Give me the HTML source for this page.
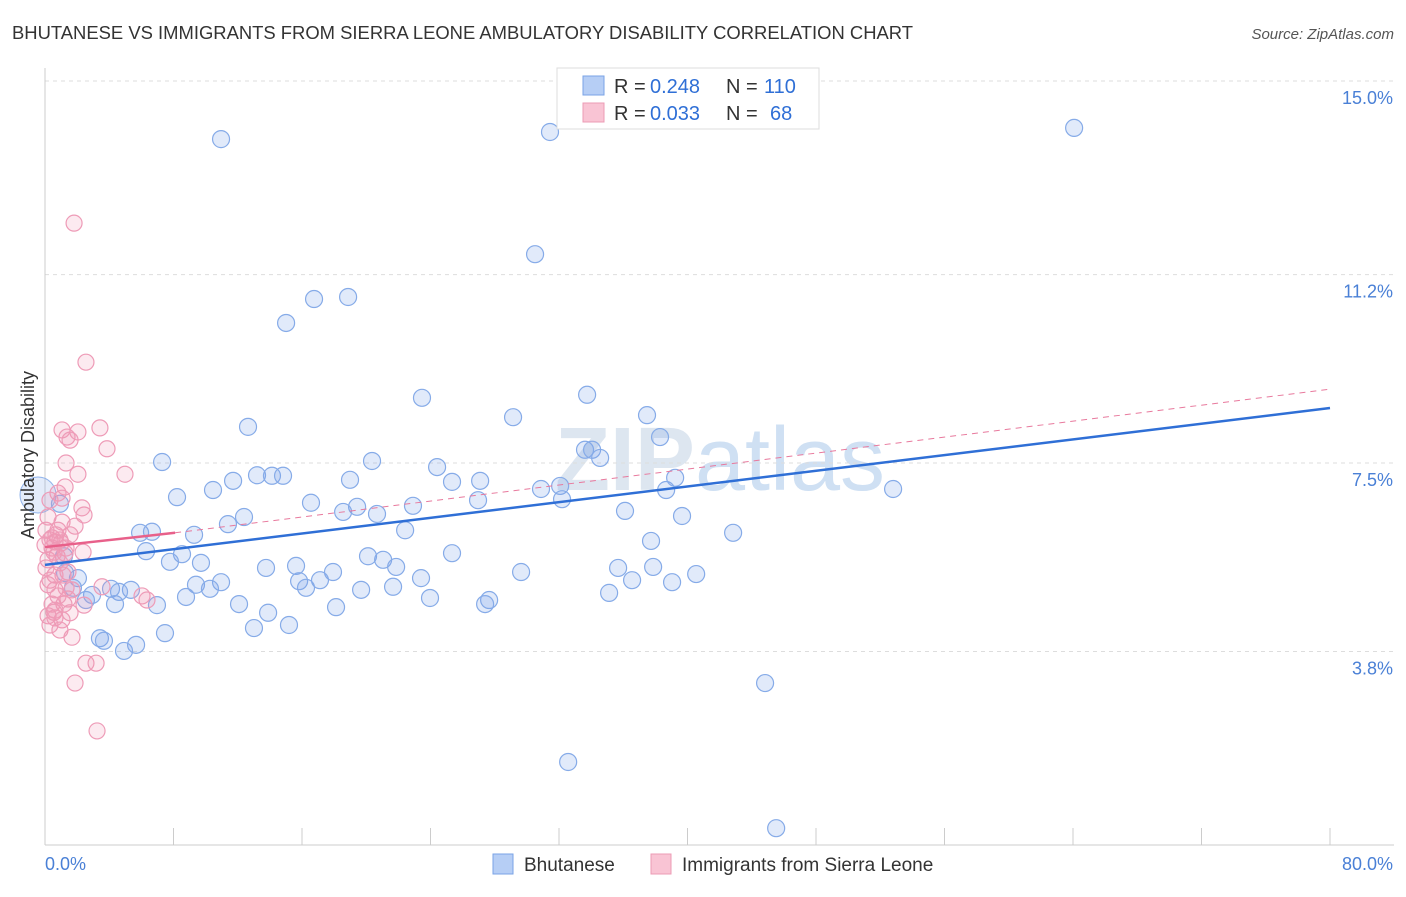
<!DOCTYPE html>
<html><head><meta charset="utf-8"><style>
body{margin:0;background:#fff;font-family:"Liberation Sans",sans-serif;}
svg text{font-family:"Liberation Sans",sans-serif;}
</style></head><body>
<svg id="chart" width="1406" height="892" xmlns="http://www.w3.org/2000/svg">
<text x="12" y="39" font-size="18" fill="#333" textLength="901" lengthAdjust="spacingAndGlyphs">BHUTANESE VS IMMIGRANTS FROM SIERRA LEONE AMBULATORY DISABILITY CORRELATION CHART</text>
<text x="1394" y="39" font-size="15" fill="#555" text-anchor="end" font-style="italic">Source: ZipAtlas.com</text>
<text x="720" y="490" font-size="90" fill="#dde6f0" text-anchor="middle" font-weight="bold">ZIP<tspan fill="#cfe0f3" font-weight="normal">atlas</tspan></text>
<g id="grid"></g><g id="axes"></g>
<g id="pts"></g><g id="lines"></g>
<text transform="translate(34,455) rotate(-90)" font-size="18" fill="#333" text-anchor="middle">Ambulatory Disability</text>
<text x="45" y="870" font-size="18" fill="#4a80d6">0.0%</text>
<text x="1393" y="870" font-size="18" fill="#4a80d6" text-anchor="end">80.0%</text>
<g>
<rect x="557" y="68" width="262" height="61" fill="#fff" stroke="#ddd"/>
<rect x="583" y="76" width="21" height="19" fill="#b6cef5" stroke="#7aa3e6"/>
<rect x="583" y="103" width="21" height="19" fill="#f9c4d4" stroke="#ec9bb5"/>
<text x="614" y="93" font-size="20" fill="#333">R =</text>
<text x="650" y="93" font-size="20" fill="#2f6fd6">0.248</text>
<text x="726" y="93" font-size="20" fill="#333">N =</text>
<text x="764" y="93" font-size="20" fill="#2f6fd6">110</text>
<text x="614" y="120" font-size="20" fill="#333">R =</text>
<text x="650" y="120" font-size="20" fill="#2f6fd6">0.033</text>
<text x="726" y="120" font-size="20" fill="#333">N =</text>
<text x="770" y="120" font-size="20" fill="#2f6fd6">68</text>
</g>
<g>
<rect x="493" y="854" width="20" height="20" fill="#b6cef5" stroke="#7aa3e6"/>
<text x="524" y="871" font-size="19" fill="#333">Bhutanese</text>
<rect x="651" y="854" width="20" height="20" fill="#f9c4d4" stroke="#ec9bb5"/>
<text x="682" y="871" font-size="19" fill="#333">Immigrants from Sierra Leone</text>
</g>
</svg>
<script>
const yTicks=[3.8,7.5,11.2,15.0];
const yTickLabels=["3.8%","7.5%","11.2%","15.0%"];
const xTicks=[0,8,16,24,32,40,48,56,64,72,80];
const bluePx=[[221,139],[550,132],[1074,128],[535,254],[314,299],[348,297],[286,323],[422,398],[587,395],[513,417],[647,415],[248,427],[660,437],[585,450],[592,450],[600,458],[162,462],[372,461],[437,467],[257,475],[272,476],[283,476],[233,481],[350,480],[452,482],[480,481],[213,490],[177,497],[541,489],[560,486],[666,490],[675,478],[893,489],[311,503],[357,507],[413,506],[478,500],[562,499],[625,511],[343,512],[377,514],[682,516],[244,517],[228,524],[405,530],[140,533],[152,532],[194,535],[733,533],[651,541],[146,551],[182,554],[452,553],[368,556],[170,562],[201,563],[383,560],[296,566],[266,568],[618,568],[653,567],[396,567],[521,572],[696,574],[78,578],[333,572],[320,580],[299,581],[221,582],[632,580],[672,582],[421,578],[196,585],[210,589],[306,588],[73,588],[111,589],[131,590],[119,592],[393,587],[361,590],[186,597],[92,595],[609,593],[489,600],[430,598],[86,600],[115,604],[157,605],[239,604],[336,607],[485,604],[268,613],[289,625],[254,628],[165,633],[100,638],[104,641],[136,645],[124,651],[765,683],[568,762],[776,828],[60,504],[64,556],[65,573]];
const pinkPx=[[74,223],[86,362],[100,428],[62,430],[78,432],[67,437],[70,440],[107,449],[66,463],[125,474],[78,474],[65,487],[58,493],[62,498],[82,508],[84,515],[48,517],[62,522],[75,526],[46,530],[56,535],[70,535],[50,540],[55,542],[61,543],[45,545],[52,548],[83,552],[65,553],[57,556],[48,560],[60,563],[46,568],[68,572],[55,575],[63,575],[50,580],[102,587],[55,590],[142,596],[147,600],[68,599],[52,604],[64,604],[84,605],[55,610],[54,612],[70,613],[48,616],[55,618],[62,620],[60,630],[72,637],[86,663],[96,663],[75,683],[97,731],[50,500],[58,530],[52,538],[60,540],[66,548],[54,552],[48,585],[58,596],[66,588],[72,590],[50,625]];
// data values (percent) derived from the picture
const blueX=bluePx.map(p=>+((p[0]-45)/16.06).toFixed(2));
const blueY=bluePx.map(p=>+((845-p[1])/50.93).toFixed(2));
const pinkX=pinkPx.map(p=>+((p[0]-45)/16.06).toFixed(2));
const pinkY=pinkPx.map(p=>+((845-p[1])/50.93).toFixed(2));
const blueLine=[[0,5.5],[80,8.58]];
const pinkLine=[[0,5.85],[8.1,6.13],[80,8.95]];
const X=v=>45+v*16.0625, Y=v=>845-v*50.93;
const NS="http://www.w3.org/2000/svg";
function mk(t,a,p){const e=document.createElementNS(NS,t);for(const k in a)e.setAttribute(k,a[k]);p.appendChild(e);return e;}
const grid=document.getElementById('grid'),axes=document.getElementById('axes'),pts=document.getElementById('pts'),lines=document.getElementById('lines');
yTicks.forEach((v,i)=>{const l=mk('line',{x1:45,x2:1394,y1:Y(v),y2:Y(v),stroke:'#ddd','stroke-dasharray':'4,4'},grid);


const t=mk('text',{x:1393,y:Y(v)+23,'font-size':18,fill:'#4a80d6','text-anchor':'end'},grid);t.textContent=yTickLabels[i];

});
const ax=mk('line',{x1:45,x2:45,y1:68,y2:845,stroke:'#ccc'},axes);


const bx=mk('line',{x1:45,x2:1394,y1:845,y2:845,stroke:'#ccc'},axes);


xTicks.forEach(v=>{const t=mk('line',{x1:X(v),x2:X(v),y1:828,y2:845,stroke:'#ccc'},axes);

});
mk('circle',{cx:38,cy:495,r:18,fill:'rgba(120,160,230,0.2)',stroke:'#8fb2ea'},pts);
blueX.forEach((x,i)=>{const c=mk('circle',{cx:X(x),cy:Y(blueY[i]),r:8.5,fill:'rgba(120,160,230,0.22)',stroke:'#86abe8','stroke-width':1.2},pts);

});
pinkX.forEach((x,i)=>{const c=mk('circle',{cx:X(x),cy:Y(pinkY[i]),r:8,fill:'rgba(240,150,180,0.2)',stroke:'#ee9bb7','stroke-width':1.2},pts);

});
const bl=mk('line',{x1:X(blueLine[0][0]),y1:Y(blueLine[0][1]),x2:X(blueLine[1][0]),y2:Y(blueLine[1][1]),stroke:'#2f6fd6','stroke-width':2.5},lines);


const pd=mk('line',{x1:X(pinkLine[1][0]),y1:Y(pinkLine[1][1]),x2:X(pinkLine[2][0]),y2:Y(pinkLine[2][1]),stroke:'#e8799d','stroke-width':1,'stroke-dasharray':'6,5'},lines);


const ps=mk('line',{x1:X(pinkLine[0][0]),y1:Y(pinkLine[0][1]),x2:X(pinkLine[1][0]),y2:Y(pinkLine[1][1]),stroke:'#e8608a','stroke-width':2.5},lines);


</script>
</body></html>
